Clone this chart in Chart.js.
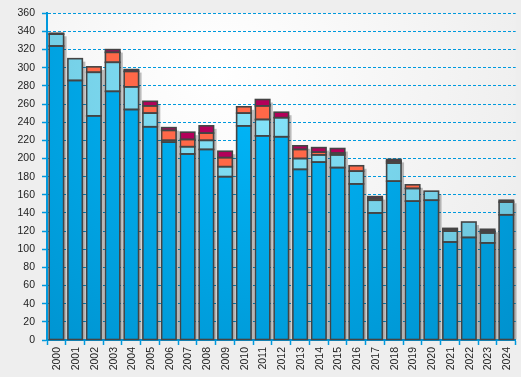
<!DOCTYPE html>
<html>
<head>
<meta charset="utf-8">
<script src="https://cdn.jsdelivr.net/npm/chart.js@4/dist/chart.umd.min.js"></script>
<style>
html, body { margin: 0; padding: 0; background: #eeeeee; }
#mycanvas { display: block; }
</style>
</head>
<body>
<canvas id="mycanvas" width="521" height="377"></canvas>
<script>
// values
var years = ['2000','2001','2002','2003','2004','2005','2006','2007','2008','2009','2010','2011','2012',
	'2013','2014','2015','2016','2017','2018','2019','2020','2021','2022','2023','2024'];
var part1 = [324, 286, 247, 274, 254, 235, 218, 205, 210, 180, 236, 225, 224, 188, 196, 190, 172, 140, 175, 153, 154, 108, 113, 107, 138];
var part2 = [13, 24, 48, 32, 25, 15, 2, 8, 10, 11, 14, 18, 21, 12, 8, 14, 14, 14, 20, 14, 10, 12, 17, 11, 14];
var part3 = [0, 0, 6, 11, 17, 8, 11, 8, 8, 10, 7, 15, 0, 10, 3, 2, 6, 2, 2, 4, 0, 2, 0, 2, 2];
var part4 = [1, 0, 0, 3, 2, 5, 3, 8, 8, 7, 0, 7, 6, 4, 5, 5, 0, 2, 2, 0, 0, 1, 0, 2, 0];
var yTicks = {min: 0, max: 360, step: 20};

var blue = '#0099dd';

function radial(inner, outer) {
	return function(c) {
		var chart = c.chart;
		var a = chart.chartArea;
		if (!a) return inner;
		var cx = a.left + (a.right - a.left) * 0.45;
		var cy = a.top + (a.bottom - a.top) * 0.2;
		var g = chart.ctx.createRadialGradient(cx, cy, 0, cx, cy, 380);
		g.addColorStop(0, inner);
		g.addColorStop(1, outer);
		return g;
	};
}

function nz(arr) {
	return arr.map(function(v) { return v === 0 ? null : v; });
}

var bgPlugin = {
	id: 'plotbg',
	beforeDraw: function(chart) {
		var a = chart.chartArea;
		var ctx = chart.ctx;
		ctx.save();
		var g = ctx.createRadialGradient(a.left + 170, a.top + 60, 0, a.left + 170, a.top + 60, 420);
		g.addColorStop(0, '#ffffff');
		g.addColorStop(1, '#e9e9e9');
		ctx.fillStyle = g;
		ctx.fillRect(a.left, a.top, a.right - a.left, a.bottom - a.top);
		ctx.restore();
	}
};

// grey drop shadow behind each stack, outlines on top of every segment
var barDeco = {
	id: 'bardeco',
	beforeDatasetsDraw: function(chart) {
		var ctx = chart.ctx;
		var n = chart.data.labels.length;
		var metas = chart.data.datasets.map(function(d, k) { return chart.getDatasetMeta(k); });
		ctx.save();
		ctx.fillStyle = 'rgba(0,0,0,0.25)';
		for (var i = 0; i < n; i++) {
			var top = null;
			for (var k = metas.length - 1; k >= 0; k--) {
				if (chart.data.datasets[k].data[i] != null) { top = metas[k].data[i]; break; }
			}
			var bot = metas[0].data[i];
			if (!top) continue;
			var w = bot.width;
			ctx.fillRect(bot.x - w / 2 + 3, top.y + 3, w, bot.base - top.y - 3);
		}
		ctx.restore();
	},
	afterDatasetsDraw: function(chart) {
		var ctx = chart.ctx;
		ctx.save();
		ctx.strokeStyle = '#444444';
		ctx.lineWidth = 1.6;
		chart.data.datasets.forEach(function(d, k) {
			var meta = chart.getDatasetMeta(k);
			meta.data.forEach(function(el, i) {
				if (d.data[i] == null) return;
				ctx.strokeRect(el.x - el.width / 2, el.y, el.width, el.base - el.y);
			});
		});
		ctx.restore();
	}
};

var ctx = document.getElementById('mycanvas');

var chartdata = {
	labels: years,
	datasets: [
		{ label: 'a', data: nz(part1), backgroundColor: radial('#00b8fb', '#0090cc') },
		{ label: 'b', data: nz(part2), backgroundColor: radial('#86e6fc', '#66bcd4') },
		{ label: 'c', data: nz(part3), backgroundColor: '#ff6848' },
		{ label: 'd', data: nz(part4), backgroundColor: '#b3005a' }
	]
};
chartdata.datasets.forEach(function(d) {
	d.borderWidth = 0;
	d.barPercentage = 0.77;
	d.categoryPercentage = 1;
});

var barGraph = new Chart(ctx, {
	type: 'bar',
	data: chartdata,
	plugins: [bgPlugin, barDeco],
	options: {
		responsive: false,
		animation: false,
		layout: { padding: { top: 12, right: 4, left: 0, bottom: 0 } },
		plugins: { legend: { display: false }, tooltip: { enabled: false } },
		scales: {
			x: {
				stacked: true,
				grid: { display: true, drawOnChartArea: false, offset: true, color: blue, tickLength: 5, tickWidth: 1.5 },
				border: { display: true, color: blue, width: 2 },
				ticks: {
					minRotation: 90, maxRotation: 90, autoSkip: false, padding: 2, labelOffset: 1,
					color: '#222', font: { family: 'Liberation Sans, Arial', size: 10.5 }
				},
				afterFit: function(s) { s.height = 37; }
			},
			y: {
				stacked: true,
				min: yTicks.min, max: yTicks.max,
				grid: { color: blue, lineWidth: 1, tickLength: 5, tickBorderDash: [1, 0], tickWidth: 1.5 },
				border: { display: true, color: blue, width: 2, dash: [3, 2] },
				ticks: {
					stepSize: yTicks.step, padding: 7,
					color: '#222', font: { family: 'Liberation Sans, Arial', size: 10.5 }
				},
				afterFit: function(s) { s.width = 47; }
			}
		}
	}
});
</script>
</body>
</html>
